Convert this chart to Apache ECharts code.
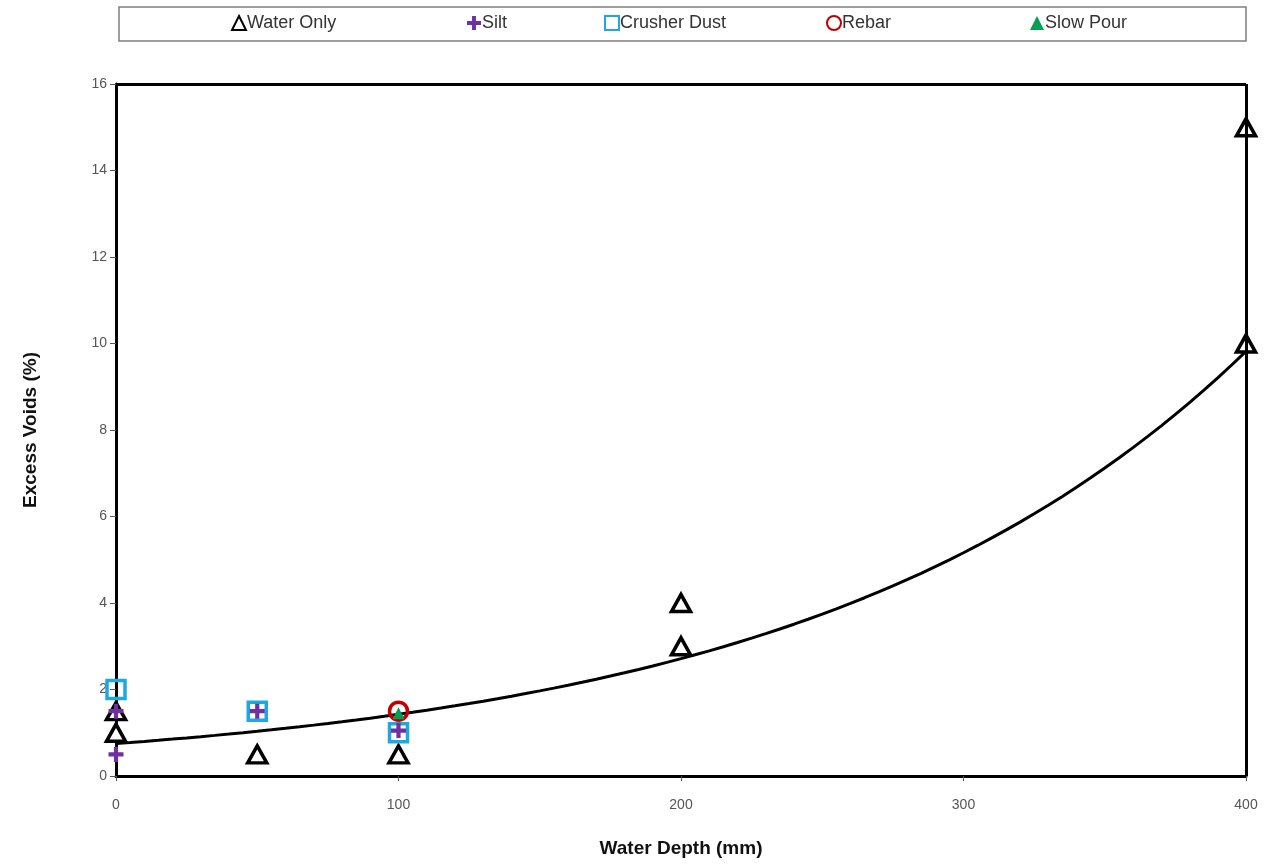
<!DOCTYPE html>
<html>
<head>
<meta charset="utf-8">
<script src="https://cdn.jsdelivr.net/npm/echarts@6/dist/echarts.min.js"></script>
<style>
  html, body { margin: 0; padding: 0; background: #fff; }
  #chart { width: 1269px; height: 865px; }
</style>
</head>
<body>
<div id="chart"></div>
<script>
// Measured excess voids (%) against water depth (mm)
const waterOnly   = [[0, 1.5], [0, 1.0], [50, 0.5], [100, 0.5], [200, 4.0], [200, 3.0], [400, 15.0], [400, 10.0]];
const silt        = [[0, 1.5], [0, 0.5], [50, 1.5], [100, 1.05]];
const crusherDust = [[0, 2.0], [50, 1.5], [100, 1.0]];
const rebar       = [[100, 1.5]];
const slowPour    = [[100, 1.45]];

// Exponential trendline y = A * exp(B * x)
const trendA = 0.75;
const trendB = 0.00643;
const trendX = [];
for (let x = 0; x <= 400; x += 5) trendX.push(x);
const trend = trendX.map(x => [x, trendA * Math.exp(trendB * x)]);

const xTicks = { min: 0, max: 400, interval: 100 };
const yTicks = { min: 0, max: 16, interval: 2 };

const FONT = 'Liberation Sans, Arial, sans-serif';
const plusPath = 'path://M3.6,0H6.4V3.6H10V6.4H6.4V10H3.6V6.4H0V3.6H3.6Z';

const chart = echarts.init(document.getElementById('chart'), null, { renderer: 'canvas' });

const legendItems = [
  { name: 'Water Only', left: 231 },
  { name: 'Silt', left: 467 },
  { name: 'Crusher Dust', left: 604 },
  { name: 'Rebar', left: 826 },
  { name: 'Slow Pour', left: 1030 }
];

chart.setOption({
  animation: false,
  backgroundColor: '#fff',
  textStyle: { fontFamily: FONT },
  graphic: [{
    type: 'rect',
    shape: { x: 119, y: 7, width: 1127, height: 34 },
    style: { fill: '#fff', stroke: '#7f7f7f', lineWidth: 1.5 },
    z: -1
  }],
  legend: legendItems.map(l => ({
    data: [l.name],
    left: l.left,
    top: 14,
    itemWidth: 14,
    itemHeight: 14,
    itemGap: 0,
    padding: 0,
    selectedMode: false,
    textStyle: { fontFamily: FONT, fontSize: 18, color: '#333', padding: [0, 0, 0, -4] }
  })),
  grid: { left: 116, right: 23, top: 84, bottom: 89 },
  xAxis: {
    type: 'value',
    min: xTicks.min, max: xTicks.max, interval: xTicks.interval,
    name: 'Water Depth (mm)',
    nameLocation: 'middle',
    nameGap: 63,
    nameMoveOverlap: false,
    nameTextStyle: { fontFamily: FONT, fontSize: 19, fontWeight: 'bold', color: '#111' },
    axisLine: { show: true, lineStyle: { color: '#000', width: 3 } },
    axisTick: { show: true, length: 5, lineStyle: { color: '#555', width: 1 } },
    axisLabel: { fontFamily: FONT, fontSize: 14, color: '#555', margin: 22 },
    splitLine: { show: false }
  },
  yAxis: {
    type: 'value',
    min: yTicks.min, max: yTicks.max, interval: yTicks.interval,
    name: 'Excess Voids (%)',
    nameLocation: 'middle',
    nameGap: 76,
    nameMoveOverlap: false,
    nameTextStyle: { fontFamily: FONT, fontSize: 19, fontWeight: 'bold', color: '#111' },
    axisLine: { show: true, lineStyle: { color: '#000', width: 3 } },
    axisTick: { show: true, length: 6, lineStyle: { color: '#555', width: 1 } },
    axisLabel: { fontFamily: FONT, fontSize: 14, color: '#555', margin: 9 },
    splitLine: { show: false }
  },
  series: [
    {
      name: 'frame',
      type: 'line',
      data: [],
      markLine: {
        silent: true,
        symbol: 'none',
        label: { show: false },
        lineStyle: { color: '#000', width: 3, type: 'solid' },
        data: [
          [{ coord: [xTicks.min, yTicks.max] }, { coord: [xTicks.max, yTicks.max] }],
          [{ coord: [xTicks.max, yTicks.min] }, { coord: [xTicks.max, yTicks.max] }]
        ]
      }
    },
    {
      name: 'trend',
      type: 'line',
      data: trend,
      showSymbol: false,
      smooth: false,
      lineStyle: { color: '#000', width: 3 },
      z: 2
    },
    {
      name: 'Water Only',
      type: 'scatter',
      data: waterOnly,
      symbol: 'triangle',
      symbolSize: [19, 17],
      itemStyle: { color: '#fff', borderColor: '#000', borderWidth: 3.5, opacity: 1 },
      z: 3
    },
    {
      name: 'Silt',
      type: 'scatter',
      data: silt,
      symbol: plusPath,
      symbolSize: 15,
      itemStyle: { color: '#7030A0', opacity: 1 },
      z: 5
    },
    {
      name: 'Crusher Dust',
      type: 'scatter',
      data: crusherDust,
      symbol: 'rect',
      symbolSize: 18,
      itemStyle: { color: 'rgba(255,255,255,0)', borderColor: '#1EA8DF', borderWidth: 3.5, opacity: 1 },
      z: 4
    },
    {
      name: 'Rebar',
      type: 'scatter',
      data: rebar,
      symbol: 'circle',
      symbolSize: 18,
      itemStyle: { color: 'rgba(255,255,255,0)', borderColor: '#C00000', borderWidth: 3.5, opacity: 1 },
      z: 4
    },
    {
      name: 'Slow Pour',
      type: 'scatter',
      data: slowPour,
      symbol: 'triangle',
      symbolSize: 12,
      itemStyle: { color: '#00A050', opacity: 1 },
      z: 4
    }
  ]
});
</script>
</body>
</html>
